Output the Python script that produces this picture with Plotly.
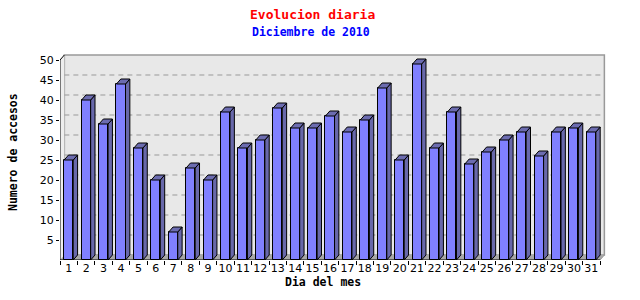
import plotly.graph_objects as go

days = list(range(1, 32))
visits = [25, 40, 34, 44, 28, 20, 7, 23, 20, 37, 28, 30, 38, 33, 33, 36,
          32, 35, 43, 25, 49, 28, 37, 24, 27, 30, 32, 26, 32, 33, 32]
y_ticks = [5, 10, 15, 20, 25, 30, 35, 40, 45, 50]
title = "Evolucion diaria"
subtitle = "Diciembre de 2010"
x_title = "Dia del mes"
y_title = "Numero de accesos"

# geometry (data units)
BW = 0.52      # bar width
DX = 0.25      # 3D depth horizontal
DY = 1.25      # 3D depth vertical
XMIN, XMAX = 0.5, len(days) + 0.5
YTOP = max(y_ticks)

FRONT = "#8080ff"
SIDE = "#6868aa"
TOP = "#6c6cb0"

fig = go.Figure()

# front faces
fig.add_trace(go.Bar(x=days, y=visits, width=BW, marker=dict(color=FRONT, line=dict(color="black", width=1)),
                     hoverinfo="skip", showlegend=False))

# side and top faces
sx, sy, tx, ty = [], [], [], []
for d, v in zip(days, visits):
    r = d + BW / 2
    l = d - BW / 2
    sx += [r, r + DX, r + DX, r, r, None]
    sy += [0, DY, v + DY, v, 0, None]
    tx += [l, l + DX, r + DX, r, l, None]
    ty += [v, v + DY, v + DY, v, v, None]
fig.add_trace(go.Scatter(x=sx, y=sy, mode="lines", fill="toself", fillcolor=SIDE,
                         line=dict(color="black", width=1), hoverinfo="skip", showlegend=False))
fig.add_trace(go.Scatter(x=tx, y=ty, mode="lines", fill="toself", fillcolor=TOP,
                         line=dict(color="black", width=1), hoverinfo="skip", showlegend=False))

shapes = []
# back wall
shapes.append(dict(type="rect", xref="x", yref="y", x0=XMIN + DX, x1=XMAX + DX, y0=DY, y1=YTOP + DY,
                   fillcolor="#e8e8e8", line=dict(color="#999999", width=1.5), layer="below"))
# left wall
shapes.append(dict(type="path", xref="x", yref="y",
                   path=f"M {XMIN},0 L {XMIN},{YTOP} L {XMIN+DX},{YTOP+DY} L {XMIN+DX},{DY} Z",
                   fillcolor="#eeeeee", line=dict(width=0), layer="below"))
# floor
shapes.append(dict(type="path", xref="x", yref="y",
                   path=f"M {XMIN},0 L {XMAX},0 L {XMAX+DX},{DY} L {XMIN+DX},{DY} Z",
                   fillcolor="#a8a8a8", line=dict(width=0), layer="below"))
# gridlines on back wall
for t in y_ticks[:-1]:
    shapes.append(dict(type="line", xref="x", yref="y", x0=XMIN + DX, x1=XMAX + DX, y0=t + DY, y1=t + DY,
                       line=dict(color="#999999", width=1, dash="5px,4px"), layer="below"))
# axis lines
shapes.append(dict(type="line", xref="x", yref="y", x0=XMIN, x1=XMIN, y0=0, y1=YTOP,
                   line=dict(color="black", width=1)))
shapes.append(dict(type="line", xref="x", yref="y", x0=XMIN, x1=XMIN + DX, y0=YTOP, y1=YTOP + DY,
                   line=dict(color="black", width=1)))
shapes.append(dict(type="line", xref="x", yref="y", x0=XMIN, x1=XMAX, y0=0, y1=0,
                   line=dict(color="black", width=1)))
shapes.append(dict(type="line", xref="x", yref="y", x0=XMAX, x1=XMAX + DX, y0=0, y1=DY,
                   line=dict(color="#999999", width=1)))

L, R, T, B = 60, 34, 54, 40
W, H = 640, 300
pw, ph = W - L - R, H - T - B


def px(xp):
    return (xp - L) / pw


def py(yp):
    return (H - B - yp) / ph


mono = "DejaVu Sans Mono"
annotations = [
    dict(text=f"<b>{title}</b>", x=px(312), y=py(14), xref="paper", yref="paper", showarrow=False,
         xanchor="center", yanchor="middle", font=dict(family=mono, size=13, color="#ff0000")),
    dict(text=f"<b>{subtitle}</b>", x=px(311), y=py(32), xref="paper", yref="paper", showarrow=False,
         xanchor="center", yanchor="middle", font=dict(family=mono, size=11.5, color="#0000ff")),
    dict(text=f"<b>{x_title}</b>", x=px(323), y=py(282), xref="paper", yref="paper", showarrow=False,
         xanchor="center", yanchor="middle", font=dict(family=mono, size=11.5, color="black")),
    dict(text=f"<b>{y_title}</b>", x=px(13), y=py(152), xref="paper", yref="paper", showarrow=False,
         textangle=-90, xanchor="center", yanchor="middle", font=dict(family=mono, size=11.5, color="black")),
]

boundaries = [d - 0.5 for d in days] + [days[-1] + 0.5]

fig.update_layout(
    width=W, height=H, margin=dict(l=L, r=R, t=T, b=B),
    paper_bgcolor="white", plot_bgcolor="white",
    shapes=shapes, annotations=annotations, showlegend=False, bargap=0,
    xaxis=dict(range=[XMIN, XMIN + pw / 17.42], tickmode="array", tickvals=days,
               ticktext=[str(d) for d in days], ticks="", showgrid=False, zeroline=False, showline=False,
               tickfont=dict(family="DejaVu Sans", size=11, color="black"),
               minor=dict(tickmode="array", tickvals=boundaries, ticks="outside", ticklen=4,
                          tickcolor="black", showgrid=False)),
    yaxis=dict(range=[0, ph / 4.0], tickmode="array", tickvals=y_ticks, ticks="outside", ticklen=3,
               tickcolor="black", showgrid=False, zeroline=False, showline=False,
               tickfont=dict(family="DejaVu Sans", size=11, color="black")),
)

fig.write_html("out.html")
